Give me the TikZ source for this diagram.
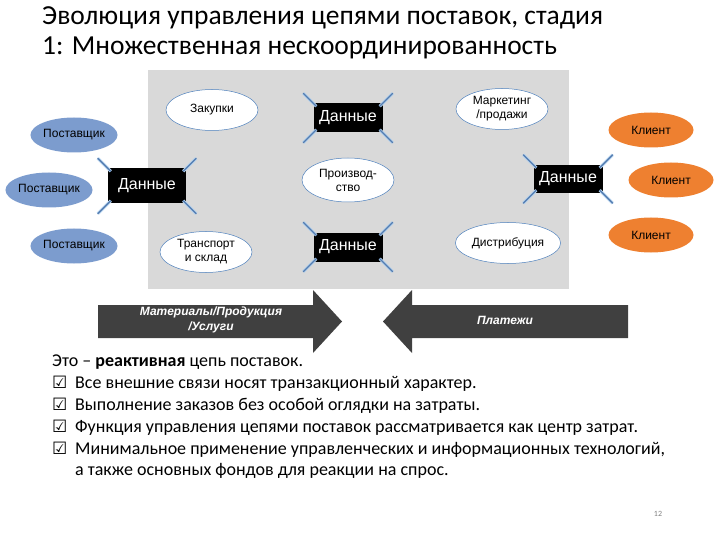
\documentclass[tikz,border=0pt]{standalone}
\usepackage{fontspec}
\setmainfont{Carlito}
\newfontfamily\diagfont{Liberation Sans}
\newfontfamily\symfont{DejaVu Sans}
\usetikzlibrary{shapes.geometric,positioning}
\usepackage{xcolor}

\definecolor{panelgray}{RGB}{217,217,217}
\definecolor{supplierblue}{RGB}{124,156,206}
\definecolor{clientorange}{RGB}{238,128,48}
\definecolor{edgeblue}{RGB}{79,129,189}
\definecolor{tickblue}{RGB}{84,124,176}
\definecolor{tickglow}{RGB}{178,208,236}
\definecolor{arrowgray}{RGB}{64,64,64}
\newcommand{\diaglabel}{\diagfont\fontsize{12}{14}\selectfont}
\newcommand{\checkmark}{\makebox[23pt][l]{\symfont\fontsize{17}{17}\selectfont ☑}}

\begin{document}
\begin{tikzpicture}[x=1pt, y=-1pt,
    func/.style={ellipse, draw=edgeblue, line width=0.5pt, fill=white, minimum width=92pt,
      minimum height=41pt, inner sep=1pt, align=center, font=\diaglabel},
    supplier/.style={ellipse, fill=supplierblue, minimum width=85pt, minimum height=35pt,
      inner sep=0pt, font=\diaglabel},
    client/.style={supplier, fill=clientorange},
    data/.style={fill=black, text=white, minimum width=69pt, minimum height=29pt, inner sep=0pt,
      font=\diagfont\fontsize{16}{18}\selectfont},
    tick/.style={draw=tickblue, line width=1.1pt, line cap=round,
      preaction={draw=tickglow, line width=3pt}},
    flowtext/.style={text=white, align=center, font=\diagfont\bfseries\itshape\fontsize{12}{15}\selectfont}]
  \useasboundingbox (0,0) rectangle (720,540);

  % Title
  \node[anchor=north west, inner sep=0pt, align=left, font=\fontsize{27.5}{30}\selectfont] (title) at (42,6)
    {Эволюция управления цепями поставок, стадия\\1: Множественная нескоординированность};

  % The company: functions on a gray panel
  \fill[panelgray] (148,70) rectangle (569,289);
  \node[func] (buy) at (212,110) {Закупки};
  \node[func, minimum height=44pt] (prod) at (348,180) {Производ-\\ство};
  \node[func] (store) at (206,252) {Транспорт\\и склад};
  \node[func] (market) at (502,109) {Маркетинг\\/продажи};
  \node[func] (distr) at (508,243) {Дистрибуция};

  % Suppliers and clients
  \node[supplier] (sup1) at (74,135) {Поставщик};
  \node[supplier] (sup2) at (49,190) {Поставщик};
  \node[supplier] (sup3) at (74,246) {Поставщик};
  \node[client] (cli1) at (651,130) {Клиент};
  \node[client] (cli2) at (671,180) {Клиент};
  \node[client] (cli3) at (651,235) {Клиент};

  % Data boxes with their loose ends
  \node[data, minimum width=78pt, minimum height=35pt] (dleft) at (147,186) {Данные};
  \node[data] (dtop) at (348,118) {Данные};
  \node[data] (dbottom) at (348,247) {Данные};
  \node[data, minimum height=28pt] (dright) at (568,179) {Данные};
  \foreach \d in {dleft,dtop,dbottom,dright} {
    \draw[tick] ([shift={(3,3)}]\d.north west) -- ++(-13,-13);
    \draw[tick] ([shift={(-3,3)}]\d.north east) -- ++(13,-13);
    \draw[tick] ([shift={(3,-3)}]\d.south west) -- ++(-13,13);
    \draw[tick] ([shift={(-3,-3)}]\d.south east) -- ++(13,13);
  }

  % Flows of goods and of money
  \fill[arrowgray] (98,305) -- (313,305) -- (313,290) -- (342,321.5) -- (313,353) -- (313,338)
    -- (98,338) -- cycle;
  \node[flowtext] (goods) at (211,320) {Материалы/Продукция\\/Услуги};
  \fill[arrowgray] (628,305) -- (412,305) -- (412,290) -- (383,321.5) -- (412,353) -- (412,338)
    -- (628,338) -- cycle;
  \node[flowtext] (pay) at (505,320) {Платежи};

  % Notes
  \node[anchor=north west, inner sep=0pt, align=left, font=\fontsize{18}{21.8}\selectfont] (notes) at (52,355)
    {Это – \textbf{реактивная} цепь поставок.\\
     \checkmark Все внешние связи носят транзакционный характер.\\
     \checkmark Выполнение заказов без особой оглядки на затраты.\\
     \checkmark Функция управления цепями поставок рассматривается как центр затрат.\\
     \checkmark Минимальное применение управленческих и информационных технологий,\\
     \hspace*{23pt}а также основных фондов для реакции на спрос.};
  \node[font=\fontsize{8}{9}\selectfont, text=gray] (page) at (658,514) {12};
\end{tikzpicture}
\end{document}
